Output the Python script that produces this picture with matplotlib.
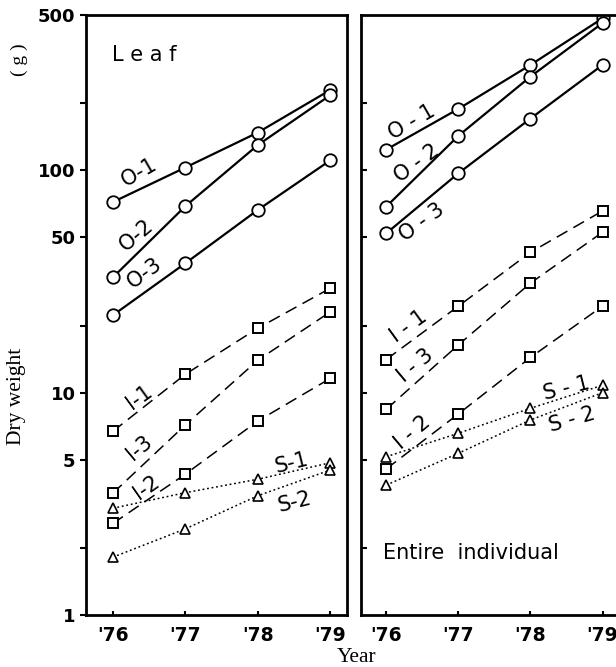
import numpy as np
import matplotlib
matplotlib.use("Agg")
import matplotlib.pyplot as plt

years = [76, 77, 78, 79]
year_labels = ["'76", "'77", "'78", "'79"]

# Leaf dry weight (g)
leaf_o1 = [72, 103, 148, 230]
leaf_o2 = [33, 69, 130, 218]
leaf_o3 = [22.3, 38.2, 66.4, 111]
leaf_i1 = [6.7, 12.1, 19.5, 29.5]
leaf_i3 = [3.53, 7.16, 14.0, 23.1]
leaf_i2 = [2.58, 4.30, 7.46, 11.6]
leaf_s1 = [3.02, 3.55, 4.08, 4.84]
leaf_s2 = [1.82, 2.44, 3.44, 4.49]

# Entire individual dry weight (g)
ent_o1 = [124, 189, 298, 483]
ent_o2 = [68.7, 143, 264, 460]
ent_o3 = [52.1, 97, 171, 298]
ent_i1 = [14.1, 24.5, 42.8, 65.7]
ent_i3 = [8.42, 16.4, 31.1, 52.7]
ent_i2 = [4.54, 8.02, 14.4, 24.5]
ent_s1 = [5.15, 6.57, 8.51, 10.8]
ent_s2 = [3.84, 5.34, 7.54, 10.0]

yticks = [1, 5, 10, 50, 100, 500]
yminor = [2, 20, 200]

fig = plt.figure(figsize=(6.16, 6.67), dpi=100)
ax1 = fig.add_axes([86 / 616, 52 / 667, 261 / 616, 600 / 667])
ax2 = fig.add_axes([361 / 616, 52 / 667, 261 / 616, 600 / 667])

solid = dict(color="black", lw=1.6, marker="o", ms=9, mfc="white", mec="black", mew=1.3)
dashed = dict(color="black", lw=1.1, ls=(0, (8, 4.5)), marker="s", ms=6.5, mfc="white", mec="black", mew=1.4)
dotted = dict(color="black", lw=1.1, ls=(0, (1.2, 1.8)), marker="^", ms=6.5, mfc="white", mec="black", mew=1.2)

lab = dict(fontsize=15, ha="center", va="center", rotation_mode="anchor")


def style(ax, show_labels):
    ax.set_yscale("log")
    ax.set_ylim(1, 500)
    ax.set_xlim(75.63, 79.23)
    ax.set_xticks(years)
    ax.set_xticklabels(year_labels, fontsize=13.5, fontweight="bold")
    ax.set_yticks(yticks)
    ax.set_yticks(yminor, minor=True)
    ax.yaxis.set_minor_formatter(plt.NullFormatter())
    for s in ax.spines.values():
        s.set_linewidth(2)
    ax.tick_params(axis="x", direction="in", length=3, width=1.5, pad=8)
    if show_labels:
        ax.set_yticklabels([str(t) for t in yticks], fontsize=13, fontweight="bold")
        ax.tick_params(axis="y", which="both", direction="out", length=4, width=1.5)
    else:
        ax.set_yticks([2, 5, 10, 20, 50, 100, 200])
        ax.set_yticklabels([])
        ax.set_yticks([], minor=True)
        ax.tick_params(axis="y", which="both", direction="in", length=4, width=1.5)


# Leaf panel
ax1.plot(years, leaf_o1, **solid)
ax1.plot(years, leaf_o2, **solid)
ax1.plot(years, leaf_o3, **solid)
ax1.plot(years, leaf_i1, **dashed)
ax1.plot(years, leaf_i3, **dashed)
ax1.plot(years, leaf_i2, **dashed)
ax1.plot(years, leaf_s1, **dotted)
ax1.plot(years, leaf_s2, **dotted)
style(ax1, True)

ax1.text(76.37, 98.4, "O-1", rotation=30, **lab)
ax1.text(76.33, 51.2, "O-2", rotation=40, **lab)
ax1.text(76.44, 34.5, "O-3", rotation=36, **lab)
ax1.text(76.36, 9.57, "I-1", rotation=36, **lab)
ax1.text(76.37, 5.64, "I-3", rotation=40, **lab)
ax1.text(76.46, 3.73, "I-2", rotation=35, **lab)
ax1.text(78.47, 4.83, "S-1", rotation=14, **lab)
ax1.text(78.51, 3.22, "S-2", rotation=14, **lab)
ax1.text(75.99, 330, "L e a f", fontsize=15, ha="left", va="center")

# Entire individual panel
ax2.plot(years, ent_o1, **solid)
ax2.plot(years, ent_o2, **solid)
ax2.plot(years, ent_o3, **solid)
ax2.plot(years, ent_i1, **dashed)
ax2.plot(years, ent_i3, **dashed)
ax2.plot(years, ent_i2, **dashed)
ax2.plot(years, ent_s1, **dotted)
ax2.plot(years, ent_s2, **dotted)
style(ax2, False)
ax2.set_xlim(75.65, 79.27)

ax2.text(76.36, 165, "O - 1", rotation=30, **lab)
ax2.text(76.43, 108, "O - 2", rotation=36, **lab)
ax2.text(76.50, 58.6, "O - 3", rotation=36, **lab)
ax2.text(76.31, 19.8, "I - 1", rotation=36, **lab)
ax2.text(76.40, 13.3, "I - 3", rotation=40, **lab)
ax2.text(76.36, 6.59, "I - 2", rotation=40, **lab)
ax2.text(78.50, 10.5, "S - 1", rotation=14, **lab)
ax2.text(78.58, 7.54, "S - 2", rotation=16, **lab)
ax2.text(75.96, 1.9, "Entire  individual", fontsize=15, ha="left", va="center")

fig.text(19 / 616, 1 - 60 / 667, "( g )", rotation=90, ha="center", va="center",
         fontsize=14, family="Liberation Serif")
fig.text(17 / 616, 1 - 396 / 667, "Dry weight", rotation=90, ha="center", va="center",
         fontsize=15.5, family="Liberation Serif")
fig.text(357 / 616, 1 - 657 / 667, "Year", ha="center", va="center",
         fontsize=15.5, family="Liberation Serif")

fig.savefig("out.png", dpi=100)
